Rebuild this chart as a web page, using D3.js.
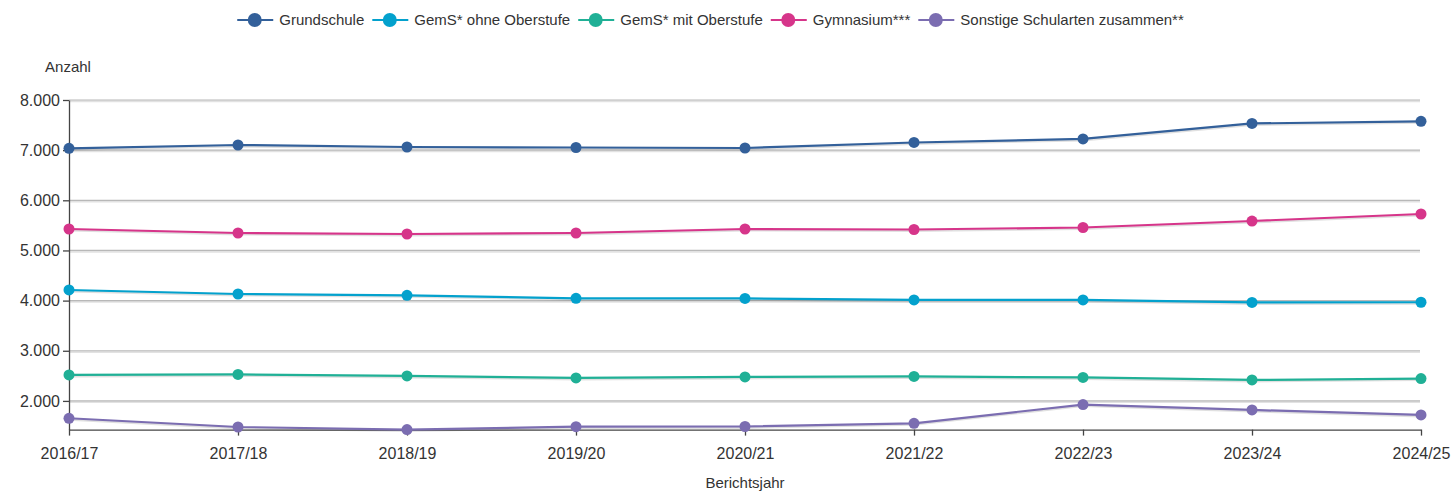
<!DOCTYPE html>
<html><head><meta charset="utf-8">
<script src="https://cdn.jsdelivr.net/npm/d3@7"></script>
<style>body{margin:0;background:#fff;font-family:"Liberation Sans",Arial,sans-serif;}</style>
</head><body><svg id="c" width="1452" height="491"></svg>
<script>
const years = ["2016/17","2017/18","2018/19","2019/20","2020/21","2021/22","2022/23","2023/24","2024/25"];
const seriesNames = ["Grundschule","GemS* ohne Oberstufe","GemS* mit Oberstufe","Gymnasium***","Sonstige Schularten zusammen**"];
const colors = ["#33609a","#03a1cd","#20b096","#d6358a","#7b6db1"];
const grundschule = [7037,7103,7063,7053,7043,7153,7223,7532,7575];
const gemsOhne = [4212,4132,4106,4046,4043,4013,4013,3963,3967];
const gemsMit = [2518,2528,2498,2458,2478,2488,2468,2418,2445];
const gymnasium = [5428,5348,5328,5348,5428,5418,5458,5587,5727];
const sonstige = [1654,1480,1428,1487,1490,1553,1927,1820,1720];
const yTicks = [2000,3000,4000,5000,6000,7000,8000];
const allSeries = [grundschule,gemsOhne,gemsMit,gymnasium,sonstige];

(function(){
const FONT = "'Liberation Sans',Arial,sans-serif";
const svg = d3.select("#c");
const mLeft = 69, mRight = 1421, mTop = 100, mBottom = 429.6;
const x = d3.scalePoint().domain(years).range([mLeft,mRight]);
const yMin = d3.min(allSeries.flat());
const y = d3.scaleLinear().domain([yMin,8000]).range([mBottom,mTop]);
const fmt = v => d3.format(",")(v).replace(/,/g,".");

const g = svg.append("g");
yTicks.forEach(t=>{
  g.append("line").attr("x1",mLeft).attr("x2",mRight-1).attr("y1",y(t)+1.2).attr("y2",y(t)+1.2).attr("stroke","#e2e2e2").attr("stroke-width",2);
  g.append("line").attr("x1",mLeft).attr("x2",mRight-1).attr("y1",y(t)).attr("y2",y(t)).attr("stroke","#b8b8b8").attr("stroke-width",1.2);
});

const yAxis = svg.append("g").attr("transform",`translate(${mLeft},0)`)
  .call(d3.axisLeft(y).tickValues(yTicks).tickFormat(fmt).tickSize(6).tickSizeOuter(0));
const xAxis = svg.append("g").attr("transform",`translate(0,${mBottom})`)
  .call(d3.axisBottom(x).tickSize(6).tickSizeOuter(0));
[yAxis,xAxis].forEach(a=>{
  a.attr("font-size",16).attr("font-family",FONT);
  a.selectAll("path,line").attr("stroke","#444").attr("stroke-width",1.3);
  a.selectAll("text").attr("fill","#333");
});
yAxis.selectAll("text").attr("x",-9);
xAxis.selectAll("text").attr("dy","1.3em");

svg.append("text").attr("x",68).attr("y",72).attr("text-anchor","middle").attr("fill","#333")
  .attr("font-size",15).attr("font-family",FONT).text("Anzahl");
svg.append("text").attr("x",745).attr("y",488).attr("text-anchor","middle").attr("fill","#333")
  .attr("font-size",15).attr("font-family",FONT).text("Berichtsjahr");

const line = d3.line().x((d,i)=>x(years[i])).y(d=>y(d));
allSeries.forEach((s,k)=>{
  svg.append("path").datum(s).attr("d",line).attr("fill","none").attr("stroke","rgba(0,0,0,0.12)")
    .attr("stroke-width",2.5).attr("transform","translate(0,1.2)");
  svg.append("path").datum(s).attr("d",line).attr("fill","none").attr("stroke",colors[k]).attr("stroke-width",2.2);
  svg.append("g").selectAll("circle").data(s).join("circle")
    .attr("cx",(d,i)=>x(years[i])).attr("cy",d=>y(d)).attr("r",5.5).attr("fill",colors[k]);
});

const lg = svg.append("g");
let lx = 0;
seriesNames.forEach((n,k)=>{
  const it = lg.append("g").attr("transform",`translate(${lx},0)`);
  it.append("line").attr("x1",0).attr("x2",36).attr("y1",0).attr("y2",0).attr("stroke",colors[k]).attr("stroke-width",2);
  it.append("circle").attr("cx",17.5).attr("cy",0).attr("r",7).attr("fill",colors[k]);
  const t = it.append("text").attr("x",42).attr("y",5).attr("fill","#333")
    .attr("font-size",15).attr("font-family",FONT).text(n);
  lx += 42 + t.node().getComputedTextLength() + 8;
});
const lw = lx - 8;
lg.attr("transform",`translate(${(236+1185)/2 - lw/2},20)`);
})();
</script></body></html>
